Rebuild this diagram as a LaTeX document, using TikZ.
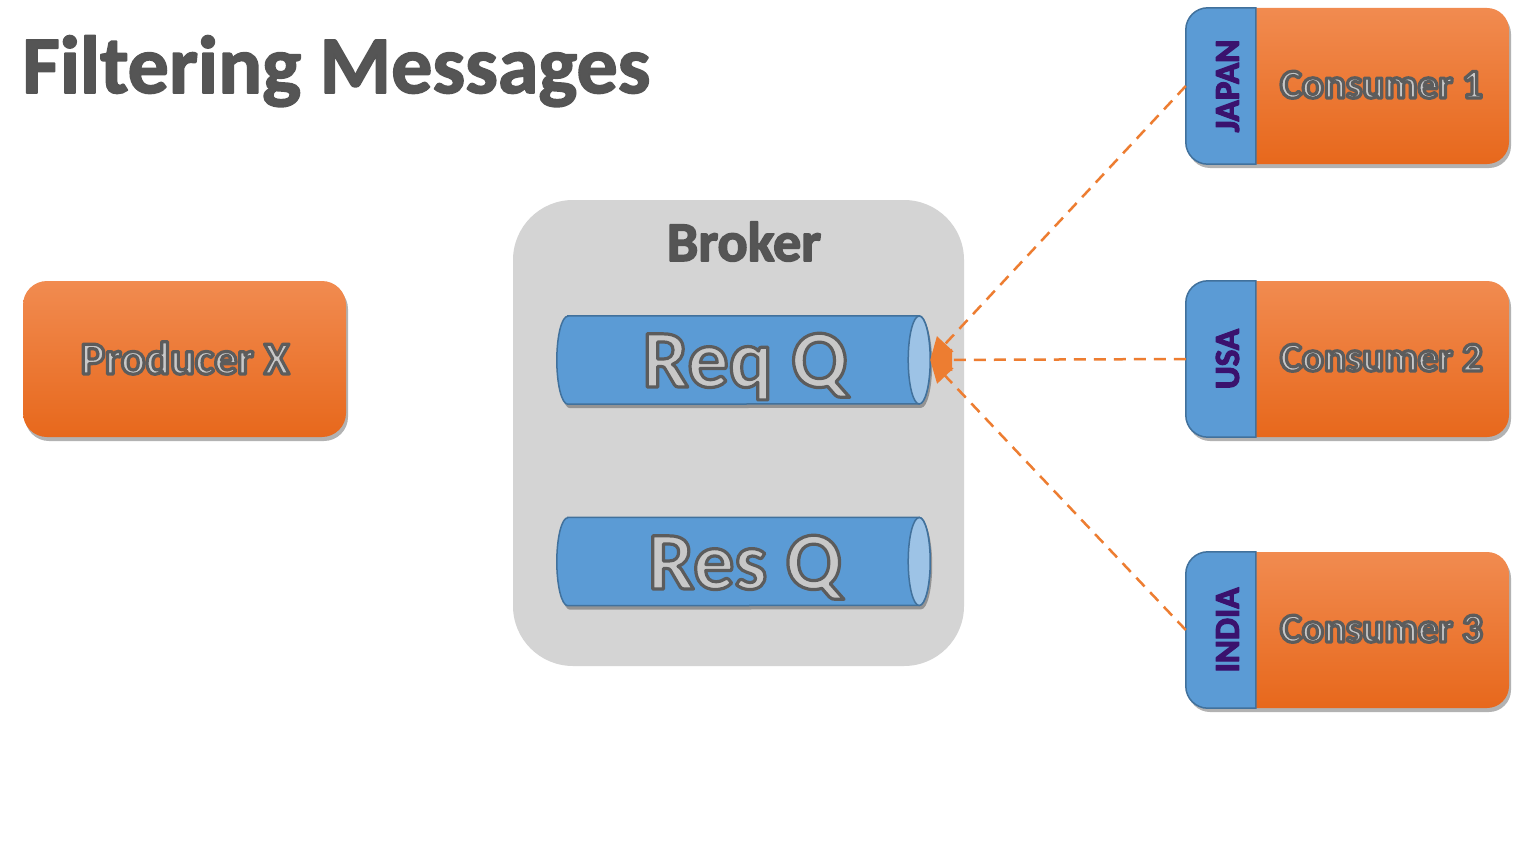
\documentclass[tikz,border=0pt]{standalone}
\usepackage{fontspec}
\setmainfont{Carlito}
\usetikzlibrary{shadows,arrows.meta}
\definecolor{otop}{RGB}{241,139,80}
\definecolor{obot}{RGB}{231,104,28}
\definecolor{qblue}{RGB}{91,155,213}
\definecolor{qedge}{RGB}{65,113,156}
\definecolor{qlight}{RGB}{157,195,230}
\definecolor{bgray}{RGB}{212,212,212}
\definecolor{corange}{RGB}{237,125,49}
\definecolor{tdark}{RGB}{85,85,85}
\definecolor{tlight}{RGB}{200,200,200}
\definecolor{lblpurple}{RGB}{58,18,110}
\newcommand\outlinedtext[1]{\special{pdf:literal direct 2 Tr 3.2 w 0.36 0.36 0.36 RG 1 j}#1\special{pdf:literal direct 0 Tr}}
\newcommand\boldtext[1]{\special{pdf:literal direct 2 Tr 1.6 w 0.33 0.33 0.33 RG 1 j}#1\special{pdf:literal direct 0 Tr}}
\newcommand\purplebold[1]{\special{pdf:literal direct 2 Tr 1.2 w 0.227 0.071 0.431 RG 1 j}#1\special{pdf:literal direct 0 Tr}}
\begin{document}
\begin{tikzpicture}[x=1pt,y=1pt,
  obox/.style={rounded corners=24pt, top color=otop, bottom color=obot, draw=none,
    inner sep=0pt, minimum width=323pt, minimum height=156pt,
    drop shadow={shadow xshift=2pt, shadow yshift=-4pt, opacity=0.3, fill=black}},
  qedgestyle/.style={draw=qedge, line width=1.5pt},
  ltext/.style={text=tlight, inner sep=0pt},
  dtext/.style={text=tdark, inner sep=0pt},
  lbl/.style={text=lblpurple, inner sep=0pt, rotate=90, anchor=base, font=\bfseries\fontsize{35}{35}\selectfont},
  conn/.style={draw=corange, line width=2.5pt, dash pattern=on 12pt off 8pt,
    -{Triangle[length=22pt,width=22pt]}}
]
\useasboundingbox (0,0) rectangle (1520,-848);
\fill[white] (0,0) rectangle (1520,-848);

% title
\node[dtext, anchor=base west, font=\bfseries\fontsize{82}{82}\selectfont] (title) at (22,-93) {\boldtext{Filtering Messages}};

% producer
\node[obox] (prod) at (184.5,-359) {};
\node[ltext, anchor=base, font=\bfseries\fontsize{46}{46}\selectfont] (prodt) at (185,-374) {\outlinedtext{Producer X}};

% broker
\node[fill=bgray, rounded corners=60pt, minimum width=451pt, minimum height=466pt, inner sep=0pt] (broker) at (738.5,-433) {};
\node[dtext, anchor=base, font=\bfseries\fontsize{56}{56}\selectfont] (brokert) at (744,-261) {\boldtext{Broker}};

% Req Q cylinder
\node[minimum width=373pt, minimum height=88pt, inner sep=0pt] (reqq) at (743.5,-360) {};
\draw[qedgestyle, fill=qblue, drop shadow={shadow xshift=2pt, shadow yshift=-4pt, opacity=0.3, fill=black}]
  ([xshift=11pt]reqq.north west) -- ([xshift=-11pt]reqq.north east)
  arc[start angle=90, end angle=-90, x radius=11pt, y radius=44pt]
  -- ([xshift=11pt]reqq.south west)
  arc[start angle=270, end angle=90, x radius=11pt, y radius=44pt] -- cycle;
\draw[qedgestyle, fill=qlight] ([xshift=-11pt]reqq.east) ellipse[x radius=11pt, y radius=44pt];
\node[ltext, anchor=base, font=\bfseries\fontsize{82}{82}\selectfont] (reqqt) at (745,-387) {\outlinedtext{Req Q}};

% Res Q cylinder
\node[minimum width=373pt, minimum height=88pt, inner sep=0pt] (resq) at (743.5,-561.5) {};
\draw[qedgestyle, fill=qblue, drop shadow={shadow xshift=2pt, shadow yshift=-4pt, opacity=0.3, fill=black}]
  ([xshift=11pt]resq.north west) -- ([xshift=-11pt]resq.north east)
  arc[start angle=90, end angle=-90, x radius=11pt, y radius=44pt]
  -- ([xshift=11pt]resq.south west)
  arc[start angle=270, end angle=90, x radius=11pt, y radius=44pt] -- cycle;
\draw[qedgestyle, fill=qlight] ([xshift=-11pt]resq.east) ellipse[x radius=11pt, y radius=44pt];
\node[ltext, anchor=base, font=\bfseries\fontsize{82}{82}\selectfont] (resqt) at (745,-589) {\outlinedtext{Res Q}};

% consumers
\foreach \n/\y/\lab/\num in {c1/-86/JAPAN/1, c2/-359/USA/2, c3/-630/INDIA/3}{
  \node[obox, rounded corners=22pt] (\n) at (1347.5,\y) {};
  \draw[qedgestyle, fill=qblue]
    ([xshift=70pt]\n.north west) -- ([xshift=22pt]\n.north west)
    arc[start angle=90, end angle=180, radius=22pt]
    -- ([yshift=22pt]\n.south west)
    arc[start angle=180, end angle=270, radius=22pt]
    -- ([xshift=70pt]\n.south west) -- cycle;
  \node[lbl] (\n lab) at ([xshift=53pt]\n.west) {\purplebold{\lab}};
  \node[ltext, anchor=base, font=\bfseries\fontsize{41}{41}\selectfont] (\n t) at ([xshift=34pt,yshift=-12pt]\n.center) {\outlinedtext{Consumer \num}};
}

% connectors
\draw[conn] (c1.west) -- (reqq.east);
\draw[conn] (c2.west) -- (reqq.east);
\draw[conn] (c3.west) -- (reqq.east);
\end{tikzpicture}
\end{document}
